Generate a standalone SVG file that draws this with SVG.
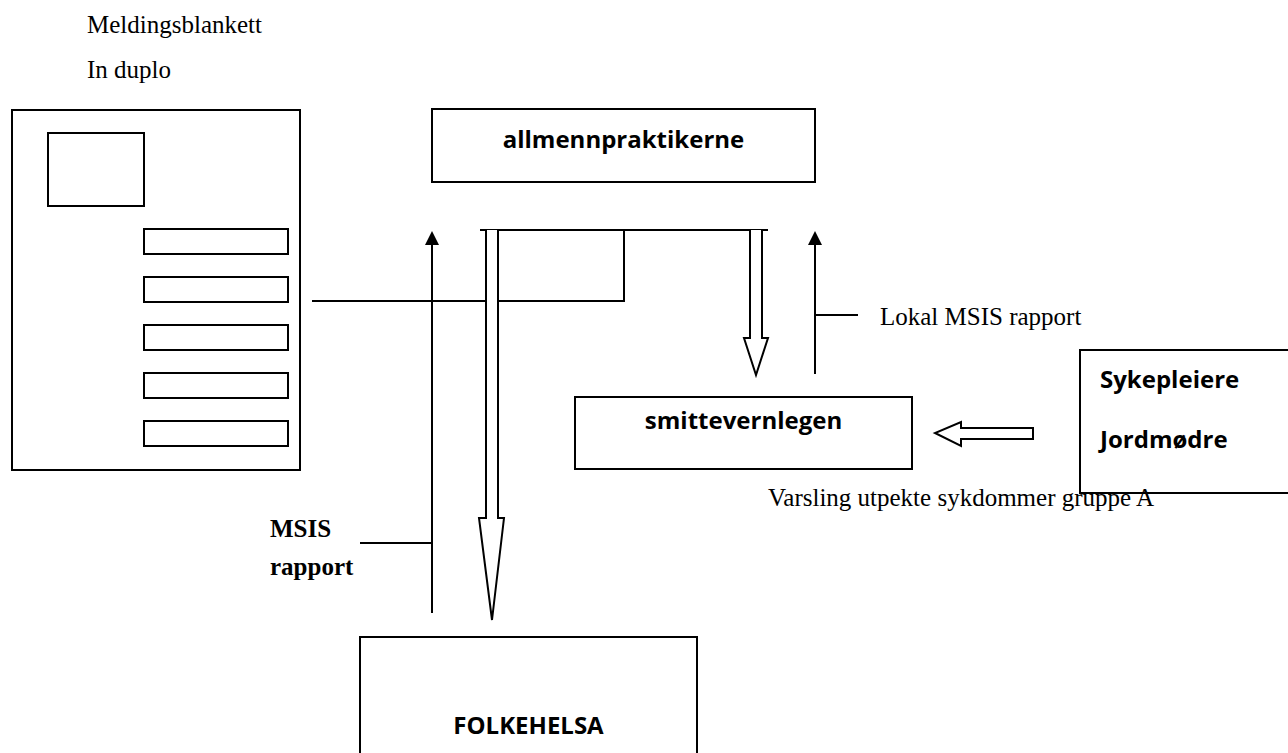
<svg xmlns="http://www.w3.org/2000/svg" width="1288" height="753" viewBox="0 0 1288 753">
<style>
.box{fill:#fff;stroke:#000;stroke-width:2}
.ln{fill:none;stroke:#000;stroke-width:2}
.hollow{fill:#fff;stroke:#000;stroke-width:2;stroke-linejoin:miter}
.serif{font-family:"Liberation Serif","Times New Roman",serif;font-size:25px;fill:#000}
.sb{font-family:"Liberation Serif","Times New Roman",serif;font-size:25px;font-weight:bold;fill:#000}
.cal{font-family:"Open Sans","Noto Sans",sans-serif;font-size:24px;font-weight:bold;fill:#000}
</style>
<rect width="1288" height="753" fill="#fff"/>

<g id="labels">
<text class="serif" x="87" y="33">Meldingsblankett</text>
<text class="serif" x="87" y="78">In duplo</text>
</g>

<g id="form">
<rect class="box" x="12" y="110" width="288" height="360"/>
<rect class="box" x="48" y="133" width="96" height="73"/>
<rect class="box" x="144" y="229" width="144" height="25"/>
<rect class="box" x="144" y="277" width="144" height="25"/>
<rect class="box" x="144" y="325" width="144" height="25"/>
<rect class="box" x="144" y="373" width="144" height="25"/>
<rect class="box" x="144" y="421" width="144" height="25"/>
</g>

<g id="allmennpraktikerne">
<rect class="box" x="432" y="109" width="383" height="73"/>
<text class="cal" x="623.5" y="148" text-anchor="middle">allmennpraktikerne</text>
</g>

<g id="smittevernlegen">
<rect class="box" x="575" y="397" width="337" height="72"/>
<text class="cal" x="743.5" y="429" text-anchor="middle">smittevernlegen</text>
</g>

<g id="sykepleiere">
<rect class="box" x="1080" y="350" width="212" height="143"/>
<text class="cal" x="1100" y="388">Sykepleiere</text>
<text class="cal" x="1100" y="448">Jordmødre</text>
</g>

<g id="folkehelsa">
<rect class="box" x="360" y="637" width="337" height="130"/>
<text class="cal" x="528.5" y="734" text-anchor="middle">FOLKEHELSA</text>
</g>

<g id="connectors">
<polyline class="ln" points="312,301 624,301 624,230"/>
<line class="ln" x1="480" y1="230" x2="768" y2="230"/>
<path class="hollow" d="M486,230 L486,518 L479,518 L492,620 L504,518 L498,518 L498,230"/>
<path class="hollow" d="M750,230 L750,338 L744,338 L756,375 L768,338 L762,338 L762,230"/>
<line class="ln" x1="432" y1="613" x2="432" y2="244"/>
<path d="M425,245 L432,231 L439,245 Z" fill="#000"/>
<line class="ln" x1="360" y1="543" x2="432" y2="543"/>
<line class="ln" x1="815" y1="374" x2="815" y2="244"/>
<path d="M808,245 L815,231 L822,245 Z" fill="#000"/>
<line class="ln" x1="815" y1="315" x2="858" y2="315"/>
<path class="hollow" d="M1033,428 L961,428 L961,422 L935,433 L961,446 L961,439 L1033,439 Z"/>
</g>

<g id="connector-labels">
<text class="serif" x="880" y="325">Lokal MSIS rapport</text>
<text class="serif" x="768" y="506">Varsling utpekte sykdommer gruppe A</text>
<text class="sb" x="270" y="537">MSIS</text>
<text class="sb" x="270" y="575">rapport</text>
</g>
</svg>
